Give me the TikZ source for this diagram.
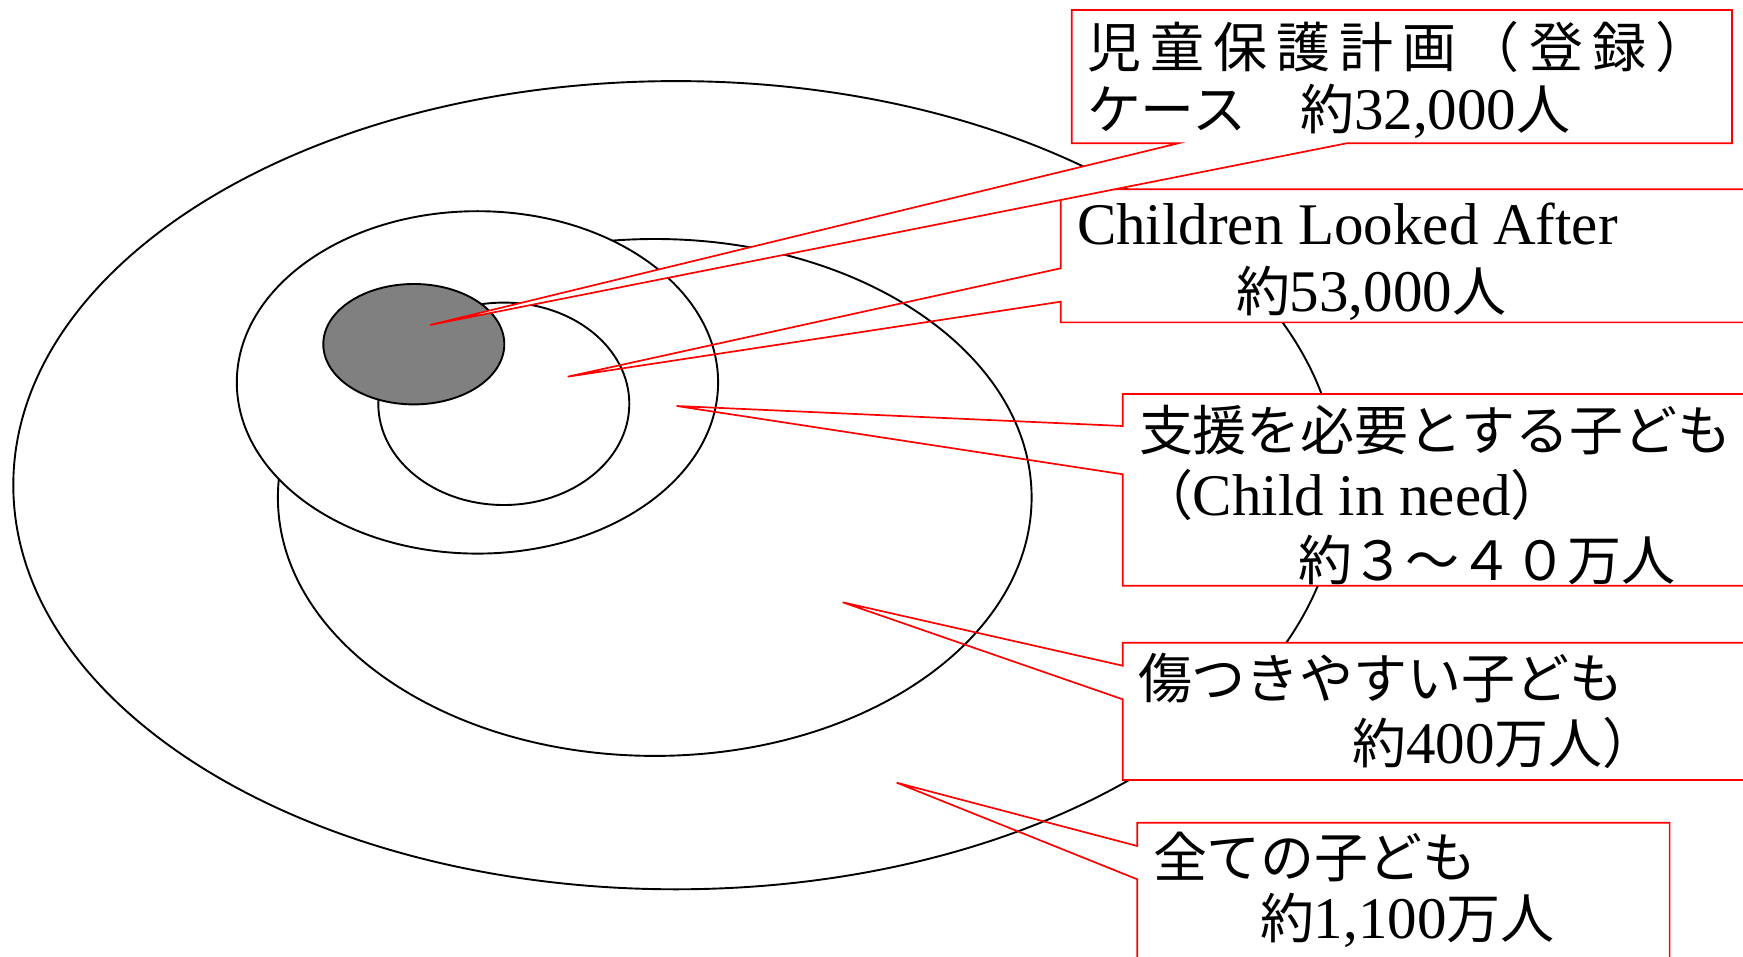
\documentclass[tikz,border=0pt]{standalone}
\usepackage{fontspec}
\setmainfont{Liberation Serif}
\newfontfamily\cjk{Noto Sans CJK JP}[Scale=0.915]
\newfontfamily\cjkwide{Noto Sans CJK JP}[Scale=0.915,LetterSpace=17]
\tikzset{
  ring/.style={draw=black, line width=1.9pt, fill=white},
  core/.style={draw=black, line width=1.9pt, fill=black!50},
  callout/.style={draw=red, line width=1.7pt, line join=miter},
  lbl/.style={anchor=base west, inner sep=0pt, outer sep=0pt, font=\fontsize{59}{70}\selectfont},
}
\begin{document}
\begin{tikzpicture}[x=1pt,y=-1pt]
\useasboundingbox (0,0) rectangle (1743,957);
\clip (0,0) rectangle (1743,957);
\fill[white] (0,0) rectangle (1743,957);

% nested ellipses
\draw[ring] (675.9,485.2) ellipse [x radius=662.6pt, y radius=404.1pt];
\draw[ring] (654.75,497.45) ellipse [x radius=376.85pt, y radius=258.45pt];
\draw[ring] (477.45,382.4) ellipse [x radius=240.65pt, y radius=171.2pt];
\draw[ring] (503.8,403.8) ellipse [x radius=125.5pt, y radius=101.2pt];
\draw[core] (413.8,344.2) ellipse [x radius=90.5pt, y radius=60.2pt];

% pointer tips
\coordinate (t1) at (430,325);
\coordinate (t2) at (567.7,376.7);
\coordinate (t3) at (676.7,406);
\coordinate (t4) at (842.7,602.3);
\coordinate (t5) at (896.7,782.7);

% callout 5
\fill[white] (1137.3,822.7) rectangle (1669.6,975);
\draw[callout] (1137.3,846) -- (1137.3,822.7) -- (1669.6,822.7) -- (1669.6,975) -- (1137.3,975) -- (1137.3,879.3) -- (t5) -- cycle;
% callout 4
\fill[white] (1122.7,642.7) rectangle (1760,780);
\draw[callout] (1122.7,665.7) -- (1122.7,642.7) -- (1760,642.7) -- (1760,780) -- (1122.7,780) -- (1122.7,699.3) -- (t4) -- cycle;
% callout 3
\fill[white] (1122.7,394) rectangle (1760,585.8);
\draw[callout] (1122.7,426) -- (1122.7,394) -- (1760,394) -- (1760,585.8) -- (1122.7,585.8) -- (1122.7,474.3) -- (t3) -- cycle;
% callout 2
\fill[white] (1060.7,189.3) rectangle (1760,322.4);
\draw[callout] (1060.7,268.3) -- (1060.7,189.3) -- (1760,189.3) -- (1760,322.4) -- (1060.7,322.4) -- (1060.7,301.7) -- (t2) -- cycle;
% callout 1
\draw[callout, fill=white] (1071.7,10) -- (1732,10) -- (1732,143.3) -- (1346.7,143.3) -- (t1) -- (1178.3,143.3) -- (1071.7,143.3) -- cycle;

% texts
\node[lbl] (a1) at (1087,68) {\cjkwide 児童保護計画（登録）};
\node[lbl] (a2) at (1087,130) {{\cjk ケース　約}32,000{\cjk 人}};
\node[lbl] (b1) at (1077,245) {Children Looked After};
\node[lbl] (b2) at (1236,312) {{\cjk 約}53,000{\cjk 人}};
\node[lbl] (c1) at (1139,450) {\cjk 支援を必要とする子ども};
\node[lbl] (c2) at (1139,515) {{\cjk （}Child in need{\cjk ）}};
\node[lbl] (c3) at (1298,580) {\cjk 約３～４０万人};
\node[lbl] (d1) at (1138,698) {\cjk 傷つきやすい子ども};
\node[lbl] (d2) at (1352,763) {{\cjk 約}400{\cjk 万人）}};
\node[lbl] (e1) at (1153,877) {\cjk 全ての子ども};
\node[lbl] (e2) at (1260,938) {{\cjk 約}1,100{\cjk 万人}};
\end{tikzpicture}
\end{document}
